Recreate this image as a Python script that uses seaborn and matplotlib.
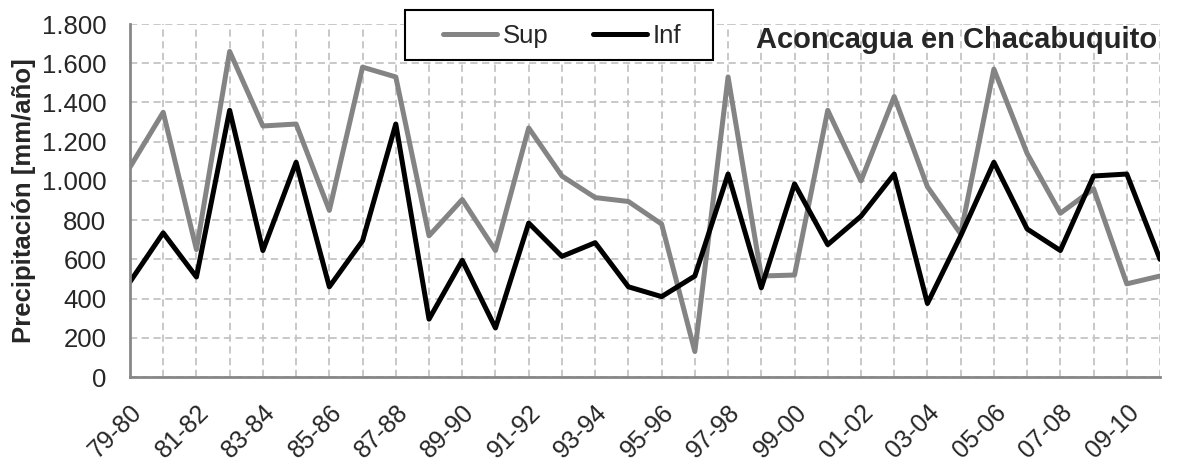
import matplotlib
matplotlib.use("Agg")
import matplotlib.pyplot as plt
import matplotlib.ticker as mticker
from matplotlib.patches import Rectangle
import pandas as pd
import seaborn as sns

# temporadas hidrológicas
seasons = ["79-80", "80-81", "81-82", "82-83", "83-84", "84-85", "85-86", "86-87",
           "87-88", "88-89", "89-90", "90-91", "91-92", "92-93", "93-94", "94-95",
           "95-96", "96-97", "97-98", "98-99", "99-00", "00-01", "01-02", "02-03",
           "03-04", "04-05", "05-06", "06-07", "07-08", "08-09", "09-10", "10-11"]

# precipitación anual [mm/año]
sup = [1070, 1350, 650, 1660, 1280, 1290, 850, 1580, 1530, 720, 905, 645, 1270, 1025,
       915, 895, 780, 130, 1530, 515, 520, 1360, 1000, 1430, 970, 730, 1570, 1140,
       835, 960, 475, 515]
inf = [485, 735, 510, 1360, 645, 1095, 460, 695, 1290, 295, 595, 250, 785, 615,
       685, 460, 410, 515, 1035, 455, 985, 675, 820, 1035, 375, 720, 1095, 755,
       645, 1025, 1035, 600]

yticks = [0, 200, 400, 600, 800, 1000, 1200, 1400, 1600, 1800]

df = pd.DataFrame({"pos": range(len(seasons)), "Sup": sup, "Inf": inf})
df = df.melt(id_vars="pos", var_name="serie", value_name="pp")

sns.set_style("white")
plt.rcParams["font.family"] = ["Liberation Sans", "DejaVu Sans"]

fig, ax = plt.subplots(figsize=(11.99, 4.68), dpi=100)
fig.subplots_adjust(left=0.1084, right=0.9675, bottom=0.1944, top=0.9487)

sns.lineplot(data=df, x="pos", y="pp", hue="serie", hue_order=["Sup", "Inf"],
             palette={"Sup": "#848484", "Inf": "black"}, linewidth=3.6,
             sort=False, ax=ax)

ax.set_xlim(0, len(seasons) - 1)
ax.set_ylim(0, 1800)
ax.set_xticks(range(len(seasons)))
ax.set_xticklabels([s if i % 2 == 0 else "" for i, s in enumerate(seasons)],
                   rotation=45, ha="right", rotation_mode="anchor", fontsize=18)
ax.set_yticks(yticks)
ax.yaxis.set_major_formatter(mticker.FuncFormatter(lambda v, p: f"{int(v):,}".replace(",", ".")))
ax.tick_params(axis="y", labelsize=18.5, length=6, width=1.5, color="#878787", pad=11)
ax.tick_params(axis="x", length=5.5, width=1.5, color="#878787", pad=11)

ax.grid(True, color="#c4c4c4", linewidth=1.3, dashes=(4, 2.5))
ax.set_axisbelow(True)
for side in ["top", "right"]:
    ax.spines[side].set_visible(False)
for side in ["left", "bottom"]:
    ax.spines[side].set_color("#878787")
    ax.spines[side].set_linewidth(2)

ax.set_xlabel("")
ax.set_ylabel("Precipitación [mm/año]", fontsize=18.5, fontweight="bold", labelpad=4)

ax.text(0.997, 0.955, "Aconcagua en Chacabuquito", transform=ax.transAxes,
        ha="right", va="center", fontsize=21, fontweight="bold")

handles, labels = ax.get_legend_handles_labels()
ax.get_legend().remove()
leg = fig.legend(handles, labels, loc="center", bbox_to_anchor=(0.469, 1 - 36 / 468),
                 ncol=2, fontsize=18.5, frameon=False, handlelength=2.1,
                 handletextpad=0.25, columnspacing=1.7)
# recuadro de la leyenda, más ancho que el que da matplotlib
fig.patches.append(Rectangle((405 / 1199, 1 - 60 / 468), 308 / 1199, 50 / 468,
                             transform=fig.transFigure, fill=True, facecolor="white",
                             edgecolor="black", linewidth=1.5, zorder=5))
leg.set_zorder(6)

fig.savefig("out.png", dpi=100)
